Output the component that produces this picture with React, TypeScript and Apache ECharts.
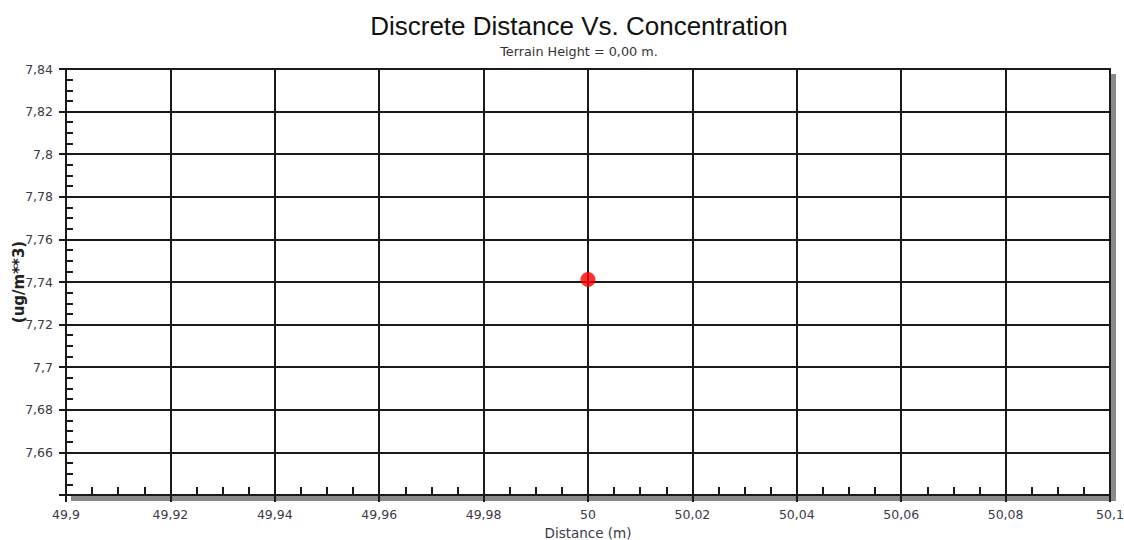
import React, { useEffect, useRef } from "react";
import * as echarts from "echarts";

const titleText = "Discrete Distance Vs. Concentration";
const subtitleText = "Terrain Height = 0,00 m.";
const xName = "Distance (m)";
const yName = "(ug/m**3)";
const xMin = 49.9;
const xMax = 50.1;
const xStep = 0.02;
const yMin = 7.64;
const yMax = 7.84;
const yStep = 0.02;
const points: [number, number][] = [[50, 7.7412]];

const fmt = (v: number) => String(+v.toFixed(2)).replace(".", ",");

export default function App() {
  const ref = useRef<HTMLDivElement>(null);
  useEffect(() => {
    if (!ref.current) return;
    const chart = echarts.init(ref.current, undefined, { renderer: "svg" });
    const line = { color: "#1a1a1a", width: 2 };
    const label = { color: "#3a3a4a", fontFamily: "DejaVu Sans", fontSize: 12.5 };
    chart.setOption({
      animation: false,
      title: {
        text: titleText,
        subtext: subtitleText,
        left: 574,
        top: 8,
        textAlign: "center",
        itemGap: 6,
        textStyle: { fontFamily: "Liberation Sans, Arial", fontSize: 26, fontWeight: "normal", color: "#111" },
        subtextStyle: { fontFamily: "DejaVu Sans", fontSize: 12.8, color: "#333" },
      },
      grid: { left: 66, top: 69, width: 1044, height: 426, show: false, containLabel: false, outerBoundsMode: "none" },
      graphic: [
        { type: "rect", shape: { x: 1111, y: 74, width: 5, height: 427 }, style: { fill: "#8a8a8a" }, z: -1 },
        { type: "rect", shape: { x: 71, y: 496, width: 1045, height: 5 }, style: { fill: "#8a8a8a" }, z: -1 },
      ],
      xAxis: [
        {
          type: "value",
          min: xMin,
          max: xMax,
          interval: xStep,
          position: "bottom",
          name: xName,
          nameLocation: "middle",
          nameGap: 31,
          nameMoveOverlap: false,
          nameTextStyle: { ...label, fontSize: 13.5 },
          axisLine: { show: true, lineStyle: line },
          axisTick: { show: true, inside: true, length: 0, lineStyle: line },
          minorTick: { show: true, splitNumber: 4, length: 8, lineStyle: line },
          axisLabel: { ...label, margin: 13, formatter: fmt, showMinLabel: true, showMaxLabel: true },
          splitLine: { show: true, lineStyle: line },
        },
        {
          type: "value",
          min: xMin,
          max: xMax,
          interval: xStep,
          position: "bottom",
          axisLine: { show: false },
          axisTick: { show: true, inside: false, length: 7, lineStyle: line },
          axisLabel: { show: false },
          splitLine: { show: false },
        },
        {
          type: "value",
          min: xMin,
          max: xMax,
          position: "top",
          axisLine: { show: true, lineStyle: line },
          axisTick: { show: false },
          axisLabel: { show: false },
          splitLine: { show: false },
        },
      ],
      yAxis: [
        {
          type: "value",
          min: yMin,
          max: yMax,
          interval: yStep,
          position: "left",
          name: yName,
          nameLocation: "middle",
          nameGap: 40,
          nameMoveOverlap: false,
          nameTextStyle: { fontFamily: "DejaVu Sans", color: "#222", fontSize: 15, fontWeight: "bold" },
          axisLine: { show: true, lineStyle: line },
          axisTick: { show: true, inside: true, length: 0, lineStyle: line },
          minorTick: { show: true, splitNumber: 4, length: 7, lineStyle: line },
          axisLabel: { ...label, margin: 13, formatter: fmt, showMinLabel: false, showMaxLabel: true },
          splitLine: { show: true, lineStyle: line },
        },
        {
          type: "value",
          min: yMin,
          max: yMax,
          interval: yStep,
          position: "left",
          axisLine: { show: false },
          axisTick: { show: true, inside: false, length: 7, lineStyle: line },
          axisLabel: { show: false },
          splitLine: { show: false },
        },
        {
          type: "value",
          min: yMin,
          max: yMax,
          position: "right",
          axisLine: { show: true, lineStyle: line },
          axisTick: { show: false },
          axisLabel: { show: false },
          splitLine: { show: false },
        },
      ],
      series: [
        {
          type: "scatter",
          data: points,
          symbol: "circle",
          symbolSize: 15,
          itemStyle: { color: "#ff0000" },
          z: 10,
        },
      ],
    });
    return () => chart.dispose();
  }, []);
  return (
    <div
      ref={ref}
      style={{ position: "fixed", left: 0, top: 0, width: 1124, height: 540, background: "#fff" }}
    />
  );
}
